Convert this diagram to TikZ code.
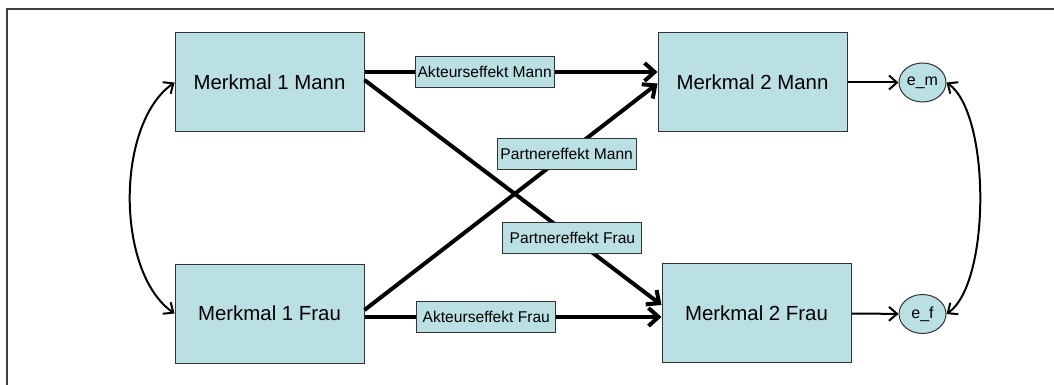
\documentclass[tikz,border=0pt]{standalone}
\usepackage{fontspec}
\setmainfont{Liberation Sans}
\usepackage{tikz}
\usetikzlibrary{arrows.meta,positioning,shapes.geometric}
\definecolor{mybluegreen}{RGB}{186,224,228}

\begin{document}
\begin{tikzpicture}[
  x=0.5pt, y=-0.5pt,
  merkmal/.style={
    draw=black!80,
    line width=0.5pt,
    fill=mybluegreen,
    minimum width=94.5pt,
    minimum height=49.5pt,
    inner sep=0pt,
    font=\fontsize{10.2}{12}\selectfont
    },
  effekt/.style={
    draw=black!80,
    line width=0.5pt,
    fill=mybluegreen,
    minimum width=69.5pt,
    minimum height=15.5pt,
    inner sep=0pt,
    font=\fontsize{7.8}{9}\selectfont
    },
  fehler/.style={
    ellipse,
    draw=black!80,
    line width=0.5pt,
    fill=mybluegreen,
    minimum width=23.5pt,
    minimum height=19.5pt,
    inner sep=0pt,
    font=\fontsize{8}{9}\selectfont
    },
  effpfeil/.style={line width=2pt, -{Straight Barb[length=5pt,width=9pt]}},
  duenn/.style={line width=1pt, -{Straight Barb[length=4pt,width=7pt]}},
  kovarianz/.style={line width=1pt, {Straight Barb[length=4pt,width=7pt]}-{Straight Barb[length=4pt,width=7pt]}}
]

\useasboundingbox (0,0) rectangle (1054,385);
\draw[line width=0.9pt, black!75] (7,385) -- (7,9) -- (1054,9);

\node[merkmal] (m1m) at (269.5,82.5) {Merkmal 1 Mann};
\node[merkmal] (m1f) at (269.5,313.5) {Merkmal 1 Frau};
\node[merkmal] (m2m) at (752.5,82.5) {Merkmal 2 Mann};
\node[merkmal] (m2f) at (756.5,313) {Merkmal 2 Frau};
\node[fehler] (em) at (922.5,82.5) {e\_m};
\node[fehler] (ef) at (922.5,314) {e\_f};

\draw[effpfeil] ([yshift=1.25pt]m1m.east) -- node[effekt, pos=.70] (pf) {Partnereffekt Frau} ([yshift=4pt]m2f.west);
\draw[effpfeil] ([yshift=1.75pt]m1f.east) -- node[effekt, pos=.69] (pm) {Partnereffekt Mann} ([yshift=-0.5pt]m2m.west);
\draw[effpfeil] ([yshift=5.25pt]m1m.east) -- node[effekt, pos=.41] (akm) {Akteurseffekt Mann} ([yshift=5.25pt]m2m.west);
\draw[effpfeil] ([yshift=-1.75pt]m1f.east) -- node[effekt, pos=.41] (akf) {Akteurseffekt Frau} ([yshift=-2pt]m2f.west);

\draw[duenn] (m2m) -- (em);
\draw[duenn] (m2f) -- (ef);

\draw[kovarianz] (m1m.west) to[out=215, in=145, looseness=0.8] (m1f.west);
\draw[kovarianz] (em.east) to[out=-35, in=35, looseness=0.6] (ef.east);

\end{tikzpicture}
\end{document}
